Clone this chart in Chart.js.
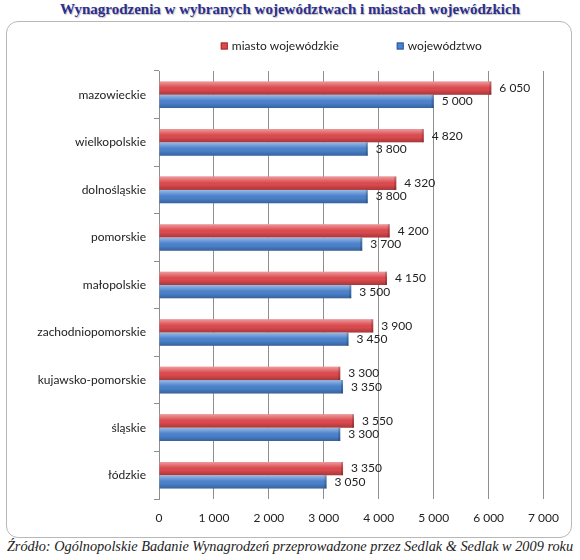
<!DOCTYPE html>
<html>
<head>
<meta charset="utf-8">
<script src="https://cdn.jsdelivr.net/npm/chart.js@4"></script>
<style>
  body { margin: 0; background: #fff; width: 580px; height: 560px; position: relative; overflow: hidden; }
  #title { position: absolute; left: 0; top: 1px; width: 580px; text-align: center;
           font: bold 15px "Liberation Serif", "DejaVu Serif", serif; color: #2b2f8f;
           text-shadow: 1px 1px 1px rgba(0,0,0,0.25); }
  #card { position: absolute; left: 6px; top: 21px; width: 564px; height: 515px;
          border: 1px solid #b8b8b8; border-radius: 12px; background: #fff; }
  #wrap { position: absolute; left: 0; top: 0; width: 564px; height: 515px; }
  #footer { position: absolute; left: 0; top: 538px; width: 580px; text-align: center;
            font: italic 14.3px "Liberation Serif", "DejaVu Serif", serif; color: #222; }
</style>
</head>
<body>
<div id="title">Wynagrodzenia w wybranych województwach i miastach wojewódzkich</div>
<div id="card"><div id="wrap"><canvas id="myChart"></canvas></div></div>
<div id="footer">Źródło: Ogólnopolskie Badanie Wynagrodzeń przeprowadzone przez Sedlak &amp; Sedlak w 2009 roku</div>
<script>
var regions = ["mazowieckie", "wielkopolskie", "dolnośląskie", "pomorskie", "małopolskie",
               "zachodniopomorskie", "kujawsko-pomorskie", "śląskie", "łódzkie"];
var cityPay = [6050, 4820, 4320, 4200, 4150, 3900, 3300, 3550, 3350];
var regionPay = [5000, 3800, 3800, 3700, 3500, 3450, 3350, 3300, 3050];
var xTicks = [0, 1000, 2000, 3000, 4000, 5000, 6000, 7000];

var FONT = "Lato, 'Open Sans', sans-serif";
var FSIZE = 12;

function fmt(v) {
    var s = String(v);
    return s.length > 3 ? s.slice(0, s.length - 3) + " " + s.slice(-3) : s;
}

// shading, value labels and legend
var extras = {
    id: 'extras',
    afterDatasetsDraw: function (chart) {
        var ctx = chart.ctx;
        chart.data.datasets.forEach(function (ds, i) {
            var meta = chart.getDatasetMeta(i);
            meta.data.forEach(function (bar, j) {
                var top = bar.y - bar.height / 2;
                var g = ctx.createLinearGradient(0, top, 0, top + bar.height);
                g.addColorStop(0, 'rgba(255,255,255,0.45)');
                g.addColorStop(0.35, 'rgba(255,255,255,0.1)');
                g.addColorStop(0.6, 'rgba(0,0,0,0)');
                g.addColorStop(1, 'rgba(0,0,0,0.25)');
                ctx.save();
                ctx.fillStyle = g;
                ctx.fillRect(bar.base, top, bar.x - bar.base, bar.height);
                ctx.fillStyle = 'rgba(0,0,0,0.18)';
                ctx.fillRect(bar.x - 2, top, 2, bar.height);
                ctx.restore();

                ctx.save();
                ctx.font = FSIZE + "px " + FONT;
                ctx.fillStyle = '#222';
                ctx.textBaseline = 'middle';
                ctx.fillText(fmt(ds.data[j]), bar.x + 8, bar.y);
                ctx.restore();
            });
        });
        // legend centered over plot area
        var area = chart.chartArea;
        ctx.save();
        ctx.font = FSIZE + "px " + FONT;
        ctx.textBaseline = 'middle';
        var gap = 58, box = 7, items = chart.data.datasets;
        var total = 0;
        items.forEach(function (ds, k) {
            total += box + 4 + ctx.measureText(ds.label).width + (k ? gap : 0);
        });
        var x = (area.left + area.right) / 2 - total / 2;
        var y = 24;
        items.forEach(function (ds, k) {
            if (k) x += gap;
            ctx.fillStyle = ds.backgroundColor;
            ctx.fillRect(x, y - box / 2, box, box);
            ctx.strokeStyle = ds.borderColor;
            ctx.strokeRect(x + 0.5, y - box / 2 + 0.5, box - 1, box - 1);
            x += box + 4;
            ctx.fillStyle = '#222';
            ctx.fillText(ds.label, x, y);
            x += ctx.measureText(ds.label).width;
        });
        ctx.restore();
    }
};

var ctx = document.getElementById("myChart").getContext('2d');
var myChart = new Chart(ctx, {
    type: 'bar',
    data: {
        labels: regions,
        datasets: [{
            label: 'miasto wojewódzkie',
            data: cityPay,
            backgroundColor: '#dd4a4e',
            borderColor: '#a8282c',
            borderWidth: 0
        },
        {
            label: 'województwo',
            data: regionPay,
            backgroundColor: '#4b82cd',
            borderColor: '#2b5a9c',
            borderWidth: 0
        }]
    },
    options: {
        indexAxis: 'y',
        responsive: true,
        maintainAspectRatio: false,
        animation: false,
        categoryPercentage: 0.56,
        barPercentage: 1.0,
        layout: { padding: { top: 49, right: 21, bottom: 0, left: 0 } },
        plugins: {
            legend: { display: false },
            tooltip: { enabled: false }
        },
        scales: {
            x: {
                min: 0,
                max: 7000,
                afterBuildTicks: function (scale) {
                    scale.ticks = xTicks.map(function (v) { return { value: v }; });
                },
                afterFit: function (scale) { scale.height = 38; },
                ticks: {
                    callback: function (v) { return fmt(v); },
                    color: '#222',
                    font: { family: FONT, size: FSIZE },
                    padding: 12
                },
                grid: { color: '#8e8e8e', drawTicks: false },
                border: { display: false }
            },
            y: {
                afterFit: function (scale) { scale.width = 152; },
                ticks: {
                    color: '#222',
                    font: { family: FONT, size: FSIZE },
                    padding: 8
                },
                grid: { offset: true, drawOnChartArea: false, tickLength: 5, color: '#8e8e8e' },
                border: { display: true, color: '#8e8e8e' }
            }
        }
    },
    plugins: [extras]
});
</script>
</body>
</html>
